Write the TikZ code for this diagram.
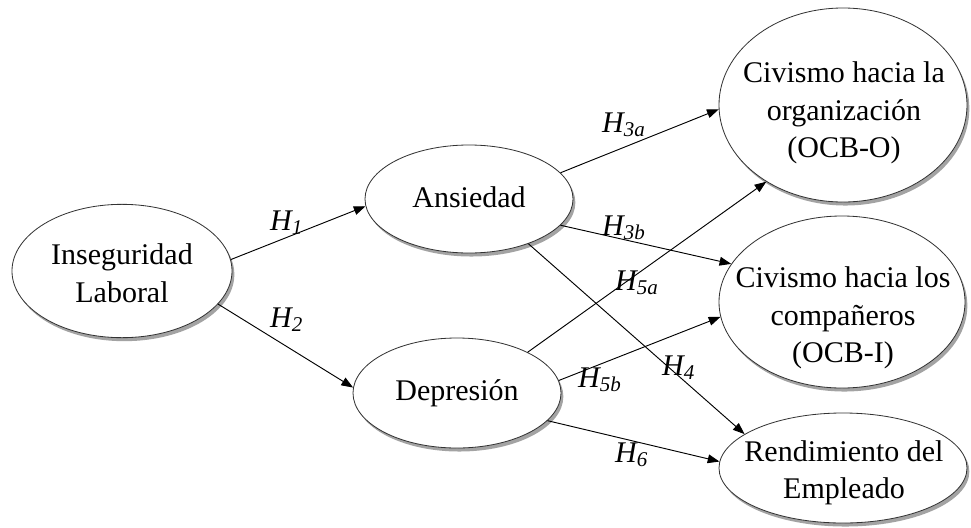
\documentclass[tikz,border=0pt]{standalone}
\usepackage{fontspec}
\setmainfont{Liberation Serif}
\usetikzlibrary{arrows.meta,shapes.geometric,shadows}

\begin{document}
\begin{tikzpicture}[
    % GLOBAL CFG
    x=0.03cm, y=-0.03cm,
    font=\fontsize{25.6}{32}\selectfont,
    >={Triangle[length=10pt,width=7.5pt]},
    % Styles
    construct/.style={% For the constructs (ellipses)
        ellipse,
        draw=black!80,
        line width=.7pt,
        fill=white,
        inner sep=0pt,
        drop shadow={shadow xshift=2pt, shadow yshift=-3pt, fill=black!40, opacity=.9},
        },
    ctext/.style={% For the text inside the ellipses
        align=center,
        inner sep=0pt,
        },
    hyp/.style={% For the hypothesis labels
        anchor=base west,
        inner sep=0pt,
        },
    ArrowH/.style={% Arrows between constructs
        ->,
        line width=.8pt,
        },
    ]

    % fix the page size
    \useasboundingbox (0,0) rectangle (971,527);

    % Draw the constructs
    \node [construct, minimum width=6.6cm, minimum height=4cm] (ins) at (122,271) {};
    \node [construct, minimum width=6.24cm, minimum height=3.24cm] (ans) at (469,199) {};
    \node [construct, minimum width=6.24cm, minimum height=3.3cm] (dep) at (457,393) {};

    % Draw the outcomes on the right
    \node [construct, minimum width=7.44cm, minimum height=5.82cm] (ocbo) at (843,105) {};
    \node [construct, minimum width=7.38cm, minimum height=5.16cm] (ocbi) at (842,302) {};
    \node [construct, minimum width=7.44cm, minimum height=3.3cm] (rend) at (843,468) {};

    % Texts of the constructs (a bit low in the right ones)
    \node [ctext] (ins-t) at (122,273) {Inseguridad\\Laboral};
    \node [ctext] (ans-t) at (469,197) {Ansiedad};
    \node [ctext] (dep-t) at (457,393) {Depresión};
    \node [ctext] (ocbo-t) at (844,113) {Civismo hacia la\\organización\\(OCB-O)};
    \node [ctext] (ocbi-t) at (843,318) {Civismo hacia los\\compañeros\\(OCB-I)};
    \node [ctext] (rend-t) at (844,473) {Rendimiento del\\Empleado};

    % Drawing arrows
    \draw [ArrowH] (ins.6) -- (ans.184); % H1
    \draw [ArrowH] (ins.341) -- (dep.177); % H2
    \draw [ArrowH] (ans.16.5) -- (ocbo.182); % H3a
    \draw [ArrowH] (ans.344) -- (ocbi.161); % H3b
    \draw [ArrowH] (ans.323) -- (rend.161); % H4
    \draw [ArrowH] (dep.30) -- (ocbo.225); % H5a
    \draw [ArrowH] (dep.7) -- (ocbi.187); % H5b
    \draw [ArrowH] (dep.343) -- (rend.177); % H6

    % Hypothesis labels
    \node [hyp] (lh1) at (270,230) {\textit{H\textsubscript{1}}};
    \node [hyp] (lh2) at (270,327) {\textit{H\textsubscript{2}}};
    \node [hyp] (lh3a) at (602,132) {\textit{H\textsubscript{3a}}};
    \node [hyp] (lh3b) at (602,235) {\textit{H\textsubscript{3b}}};
    \node [hyp] (lh4) at (662,375) {\textit{H\textsubscript{4}}};
    \node [hyp] (lh5a) at (615,290) {\textit{H\textsubscript{5a}}};
    \node [hyp] (lh5b) at (578,387) {\textit{H\textsubscript{5b}}};
    \node [hyp] (lh6) at (615,462) {\textit{H\textsubscript{6}}};

\end{tikzpicture}
\end{document}
